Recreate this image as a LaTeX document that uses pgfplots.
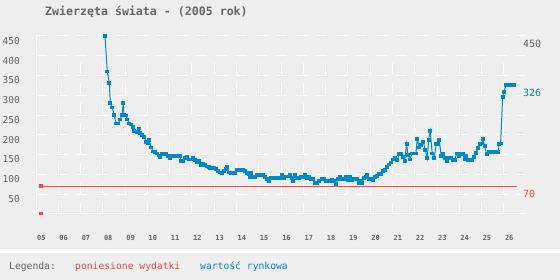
\documentclass[border=0pt]{standalone}
\usepackage{pgfplots}
\pgfplotsset{compat=1.18}
\usepackage{fontspec}
\setmainfont{DejaVu Sans Mono}
\definecolor{bg}{HTML}{EEEEEE}
\definecolor{txt}{HTML}{666666}
\definecolor{blu}{HTML}{0088CC}
\definecolor{rd}{HTML}{FF4444}
\begin{document}
\begin{tikzpicture}[x=1pt,y=1pt]
\useasboundingbox (0,0) rectangle (560,280);
\fill[bg] (0,0) rectangle (560,280);
\fill[white] (0,26.7) rectangle (560,30.7);
\node[anchor=west,inner sep=0pt,text=txt,font=\fontsize{11.6}{12}\selectfont\bfseries] at (45,268) {Zwierzęta świata - (2005 rok)};
\node[anchor=west,inner sep=0pt,text=txt,font=\fontsize{9.7}{10}\selectfont] at (9,13) {Legenda:};
\node[anchor=west,inner sep=0pt,text=rd,font=\fontsize{9.7}{10}\selectfont] at (75,13) {poniesione wydatki};
\node[anchor=west,inner sep=0pt,text=blu,font=\fontsize{9.7}{10}\selectfont] at (200,13) {wartość rynkowa};
\begin{axis}[
  at={(36pt,66pt)}, anchor=south west,
  scale only axis, width=489pt, height=178pt,
  xmin=2005, xmax=2026.95, ymin=0, ymax=450,
  axis x line=bottom, axis y line=left,
  axis line style={white, line width=1pt, -},
  clip=false,
  xtick={2005,2006,...,2026},
  xticklabels={05,06,07,08,09,10,11,12,13,14,15,16,17,18,19,20,21,22,23,24,25,26},
  xticklabel style={anchor=north west, inner sep=0pt, xshift=1pt, yshift=-21pt, text=txt, font=\fontsize{7}{8}\selectfont\bfseries},
  ytick={50,100,...,450},
  yticklabel style={anchor=north east, inner sep=0pt, xshift=-16pt, yshift=-1pt, text=txt, font=\fontsize{9.5}{10}\selectfont},
  /pgf/number format/assume math mode=true,
  major tick length=0pt,
  ymajorgrids,
  grid style={white, line width=1pt, dash pattern=on 10.7pt off 9.3pt},
]
\pgfplotsinvokeforeach{2006,2007,...,2026}{
  \draw[white, line width=1pt, dash pattern=on 11pt off 9pt] (axis cs:#1,0) -- (axis cs:#1,381);
}
\addplot[rd, line width=1pt, mark=square*, mark size=1.4pt, mark indices={1}] coordinates {(2005.22,70) (2026.57,70)};
\addplot[rd, only marks, mark=square*, mark size=1.4pt] coordinates {(2005.22,2)};
\addplot[blu, line width=1pt, mark=square*, mark size=1.4pt] coordinates {
(2008.097,450) (2008.200,360) (2008.290,332) (2008.335,280) (2008.424,269) (2008.514,250)
(2008.590,229) (2008.694,229) (2008.783,239) (2008.860,250) (2008.918,280) (2008.949,250)
(2009.039,249) (2009.098,239) (2009.187,229) (2009.277,226) (2009.340,220) (2009.412,210)
(2009.519,208) (2009.609,216) (2009.681,204) (2009.771,200) (2009.861,195) (2009.950,183)
(2010.027,178) (2010.085,187) (2010.175,168) (2010.264,158) (2010.354,156) (2010.444,153)
(2010.507,148) (2010.579,143) (2010.668,151) (2010.758,151) (2010.848,151) (2010.938,146)
(2011.027,141) (2011.104,146) (2011.193,148) (2011.283,146) (2011.373,146) (2011.449,146)
(2011.521,133) (2011.611,133) (2011.700,141) (2011.777,144) (2011.853,138) (2011.943,138)
(2012.033,141) (2012.122,136) (2012.212,131) (2012.329,133) (2012.419,123) (2012.508,126)
(2012.598,123) (2012.688,120) (2012.751,119) (2012.809,117) (2012.899,117) (2012.989,117)
(2013.078,113) (2013.168,108) (2013.258,105) (2013.348,103) (2013.437,108) (2013.527,113)
(2013.586,118) (2013.676,105) (2013.765,103) (2013.855,103) (2013.945,103) (2014.034,112)
(2014.124,112) (2014.214,112) (2014.304,112) (2014.393,109) (2014.456,103) (2014.546,100)
(2014.604,94) (2014.663,104) (2014.752,93) (2014.842,93) (2014.932,98) (2015.022,98)
(2015.111,98) (2015.201,100) (2015.291,93) (2015.381,89) (2015.444,84) (2015.533,90)
(2015.623,90) (2015.713,90) (2015.803,90) (2015.892,90) (2015.982,90) (2016.040,98)
(2016.130,90) (2016.220,95) (2016.310,95) (2016.399,98) (2016.489,91) (2016.548,83)
(2016.638,100) (2016.727,90) (2016.817,90) (2016.907,93) (2016.996,93) (2017.086,98)
(2017.176,90) (2017.266,95) (2017.355,89) (2017.445,88) (2017.535,79) (2017.625,79)
(2017.715,84) (2017.836,89) (2017.925,89) (2018.015,84) (2018.105,84) (2018.195,84)
(2018.284,87) (2018.374,84) (2018.464,76) (2018.554,89) (2018.643,94) (2018.733,89)
(2018.823,89) (2018.913,93) (2019.002,86) (2019.092,93) (2019.182,86) (2019.272,88)
(2019.361,88) (2019.420,89) (2019.483,78) (2019.573,83) (2019.631,78) (2019.721,91)
(2019.811,93) (2019.869,98) (2019.959,88) (2020.049,89) (2020.138,86) (2020.228,94)
(2020.318,96) (2020.407,101) (2020.497,101) (2020.587,109) (2020.677,111) (2020.766,119)
(2020.856,125) (2020.946,130) (2021.035,138) (2021.125,143) (2021.215,136) (2021.305,151)
(2021.394,153) (2021.457,145) (2021.547,134) (2021.637,177) (2021.695,149) (2021.785,138)
(2021.875,153) (2021.965,153) (2022.054,153) (2022.113,190) (2022.203,168) (2022.293,174)
(2022.382,183) (2022.472,162) (2022.562,141) (2022.625,187) (2022.696,210) (2022.786,153)
(2022.876,141) (2022.965,177) (2023.055,177) (2023.100,187) (2023.190,146) (2023.280,151)
(2023.369,141) (2023.459,134) (2023.549,141) (2023.639,143) (2023.728,136) (2023.791,136)
(2023.881,153) (2023.971,146) (2024.061,151) (2024.150,151) (2024.240,138) (2024.298,146)
(2024.388,136) (2024.478,136) (2024.568,136) (2024.657,145) (2024.747,155) (2024.837,166)
(2024.927,176) (2025.016,178) (2025.048,189) (2025.138,172) (2025.227,151) (2025.317,156)
(2025.407,156) (2025.497,157) (2025.586,157) (2025.676,157) (2025.735,156) (2025.793,176)
(2025.856,178) (2025.946,296) (2026.004,308) (2026.094,326) (2026.183,326) (2026.273,326)
(2026.363,326) (2026.453,326)
};
\node[anchor=north west, inner sep=0pt, xshift=-2pt, yshift=-3.5pt, text=txt, font=\fontsize{10}{10}\selectfont] at (axis cs:2026.95,450) {450};
\node[anchor=north west, inner sep=0pt, xshift=-2pt, yshift=-3.5pt, text=blu, font=\fontsize{10}{10}\selectfont] at (axis cs:2026.95,326) {326};
\node[anchor=north west, inner sep=0pt, xshift=-2pt, yshift=-3.5pt, text=rd, font=\fontsize{10}{10}\selectfont] at (axis cs:2026.95,70) {70};
\end{axis}
\end{tikzpicture}
\end{document}
